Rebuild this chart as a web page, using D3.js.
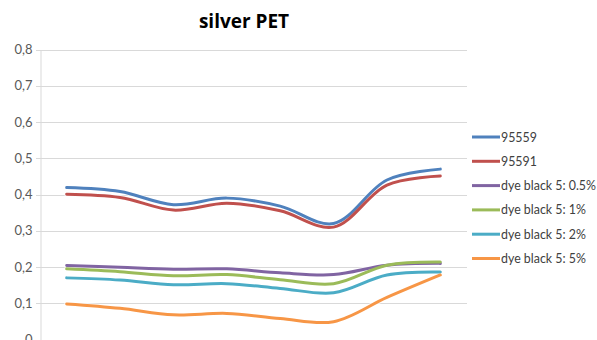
<!DOCTYPE html>
<html>
<head>
<meta charset="utf-8">
<script src="https://cdn.jsdelivr.net/npm/d3@7"></script>
<style>
  html, body { margin: 0; padding: 0; background: #fff; }
  svg { display: block; font-family: Lato, "Open Sans", "Liberation Sans", sans-serif; }
</style>
</head>
<body>
<svg id="chart" width="597" height="340"></svg>
<script>
// Measurement points along the x axis (unlabelled)
const categories = [1, 2, 3, 4, 5, 6, 7, 8];

const seriesNames = ["95559", "95591", "dye black 5: 0.5%", "dye black 5: 1%", "dye black 5: 2%", "dye black 5: 5%"];
const seriesColors = ["#4F81BD", "#C0504D", "#8064A2", "#9BBB59", "#4BACC6", "#F79646"];

const s95559 = [0.419, 0.408, 0.372, 0.390, 0.368, 0.320, 0.440, 0.470];
const s95591 = [0.401, 0.392, 0.357, 0.376, 0.355, 0.310, 0.426, 0.451];
const dye05 = [0.204, 0.199, 0.194, 0.195, 0.184, 0.179, 0.205, 0.210];
const dye1 = [0.195, 0.187, 0.176, 0.179, 0.165, 0.154, 0.205, 0.214];
const dye2 = [0.170, 0.164, 0.151, 0.154, 0.141, 0.129, 0.178, 0.186];
const dye5 = [0.098, 0.086, 0.068, 0.072, 0.058, 0.049, 0.116, 0.178];

const seriesValues = [s95559, s95591, dye05, dye1, dye2, dye5];
const yTicks = [0, 0.1, 0.2, 0.3, 0.4, 0.5, 0.6, 0.7, 0.8];

const svg = d3.select("#chart");
const plot = { left: 40, right: 467, top: 49.5, bottom: 339.5 };

const x = d3.scaleBand().domain(categories).range([plot.left, plot.right]);
const y = d3.scaleLinear().domain([0, 0.8]).range([plot.bottom, plot.top]);

// Title
svg.append("text")
  .attr("x", 244).attr("y", 28)
  .attr("text-anchor", "middle")
  .attr("font-size", 19).attr("font-weight", "bold")
  .attr("font-family", "Open Sans, Liberation Sans, sans-serif")
  .attr("fill", "#000")
  .text("silver PET");

// Horizontal gridlines
svg.append("g")
  .selectAll("line")
  .data(yTicks)
  .join("line")
  .attr("x1", plot.left - 4).attr("x2", plot.right)
  .attr("y1", d => Math.round(y(d)) + 0.5).attr("y2", d => Math.round(y(d)) + 0.5)
  .attr("stroke", "#D9D9D9").attr("stroke-width", 1);

// Y axis
const fmt = d => d === 0 ? "0" : d3.format(".1f")(d).replace(".", ",");
const yAxis = svg.append("g")
  .attr("transform", `translate(${plot.left + 0.5},0)`)
  .call(d3.axisLeft(y).tickValues(yTicks).tickFormat(fmt).tickSize(0).tickPadding(8));
yAxis.select(".domain").attr("stroke", "#D9D9D9");
yAxis.selectAll("text").attr("font-size", 13).attr("fill", "#595959")
  .attr("font-family", "Lato, Open Sans, sans-serif");

// Series lines
const line = d3.line()
  .x((d, i) => x(categories[i]) + x.bandwidth() / 2)
  .y(d => y(d))
  .curve(d3.curveCatmullRom.alpha(0.5));

const lines = svg.append("g");
seriesValues.forEach((vals, k) => {
  lines.append("path")
    .attr("d", line(vals))
    .attr("fill", "none")
    .attr("stroke", "#fff").attr("stroke-opacity", 0.7)
    .attr("stroke-width", 5).attr("stroke-linecap", "round");
});
seriesValues.forEach((vals, k) => {
  lines.append("path")
    .attr("d", line(vals))
    .attr("fill", "none")
    .attr("stroke", seriesColors[k])
    .attr("stroke-width", 3).attr("stroke-linecap", "round");
});

// Legend
const legend = svg.append("g");
seriesNames.forEach((name, k) => {
  const ly = 137 + k * 24.3;
  legend.append("line")
    .attr("x1", 472).attr("x2", 500).attr("y1", ly).attr("y2", ly)
    .attr("stroke", seriesColors[k]).attr("stroke-width", 3);
  legend.append("text")
    .attr("x", 501).attr("y", ly + 4.5)
    .attr("font-size", 12.4).attr("fill", "#404040")
    .text(name);
});
</script>
</body>
</html>
